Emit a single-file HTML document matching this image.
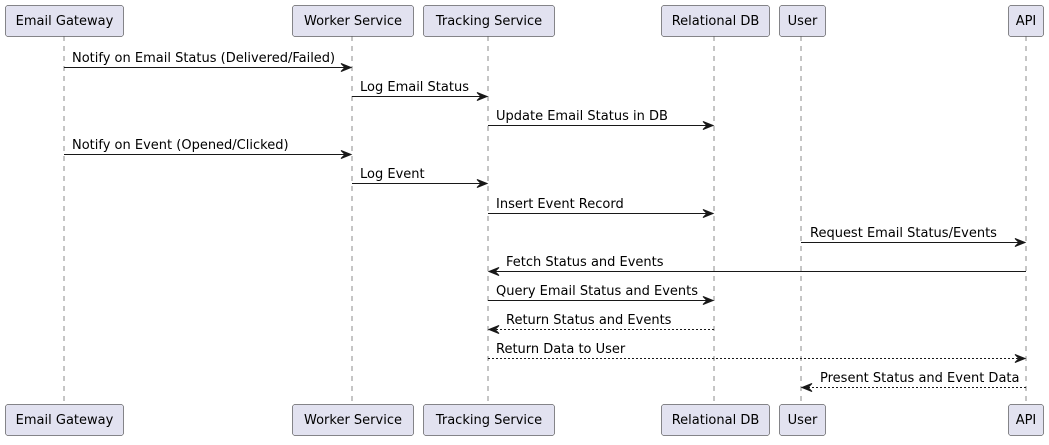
<!DOCTYPE html>
<html><head><meta charset="utf-8"><style>
html,body{margin:0;padding:0;background:#fff;}
svg text{font-family:"DejaVu Sans","Liberation Sans",sans-serif;font-size:13px;fill:#000;}
</style></head><body>
<svg width="1049" height="440" viewBox="0 0 1049 440" xmlns="http://www.w3.org/2000/svg">
<defs>
<g id="ar"><polygon points="0,0 -10,-4 -6,0 -10,4" fill="#181818" stroke="#181818"/></g>
</defs>
<g stroke="#181818" stroke-width="0.5" stroke-dasharray="5,5">
<line x1="64" y1="36" x2="64" y2="404"/>
<line x1="352" y1="36" x2="352" y2="404"/>
<line x1="488" y1="36" x2="488" y2="404"/>
<line x1="714" y1="36" x2="714" y2="404"/>
<line x1="801" y1="36" x2="801" y2="404"/>
<line x1="1026" y1="36" x2="1026" y2="404"/>
</g>
<g fill="#E2E2F0" stroke="#181818" stroke-width="0.5">
<rect x="5.5" y="5.5" width="118" height="31" rx="2.5"/>
<rect x="292.5" y="5.5" width="121" height="31" rx="2.5"/>
<rect x="423.5" y="5.5" width="131" height="31" rx="2.5"/>
<rect x="661.5" y="5.5" width="108" height="31" rx="2.5"/>
<rect x="779.5" y="5.5" width="46" height="31" rx="2.5"/>
<rect x="1008.5" y="5.5" width="35" height="31" rx="2.5"/>
<rect x="5.5" y="404.5" width="118" height="31" rx="2.5"/>
<rect x="292.5" y="404.5" width="121" height="31" rx="2.5"/>
<rect x="423.5" y="404.5" width="131" height="31" rx="2.5"/>
<rect x="661.5" y="404.5" width="108" height="31" rx="2.5"/>
<rect x="779.5" y="404.5" width="46" height="31" rx="2.5"/>
<rect x="1008.5" y="404.5" width="35" height="31" rx="2.5"/>
</g>
<g text-anchor="middle">
<text x="64.5" y="25">Email Gateway</text>
<text x="353" y="25">Worker Service</text>
<text x="489" y="25">Tracking Service</text>
<text x="715.5" y="25">Relational DB</text>
<text x="802.5" y="25">User</text>
<text x="1026" y="25">API</text>
<text x="64.5" y="424">Email Gateway</text>
<text x="353" y="424">Worker Service</text>
<text x="489" y="424">Tracking Service</text>
<text x="715.5" y="424">Relational DB</text>
<text x="802.5" y="424">User</text>
<text x="1026" y="424">API</text>
</g>
<g stroke="#181818" stroke-width="1">
<line x1="64" y1="67.5" x2="350" y2="67.5"/>
<line x1="352" y1="96.5" x2="486" y2="96.5"/>
<line x1="488" y1="125.5" x2="712" y2="125.5"/>
<line x1="64" y1="154.5" x2="350" y2="154.5"/>
<line x1="352" y1="183.5" x2="486" y2="183.5"/>
<line x1="488" y1="213.5" x2="712" y2="213.5"/>
<line x1="801" y1="242.5" x2="1024" y2="242.5"/>
<line x1="1026" y1="271.5" x2="491" y2="271.5"/>
<line x1="488" y1="300.5" x2="712" y2="300.5"/>
<line x1="714" y1="329.5" x2="491" y2="329.5" stroke-dasharray="2,2"/>
<line x1="488" y1="358.5" x2="1024" y2="358.5" stroke-dasharray="2,2"/>
<line x1="1026" y1="387.5" x2="804" y2="387.5" stroke-dasharray="2,2"/>
</g>
<use href="#ar" transform="translate(351,67.5)"/>
<use href="#ar" transform="translate(487,96.5)"/>
<use href="#ar" transform="translate(713,125.5)"/>
<use href="#ar" transform="translate(351,154.5)"/>
<use href="#ar" transform="translate(487,183.5)"/>
<use href="#ar" transform="translate(713,213.5)"/>
<use href="#ar" transform="translate(1025,242.5)"/>
<use href="#ar" transform="translate(489,271.5) scale(-1,1)"/>
<use href="#ar" transform="translate(713,300.5)"/>
<use href="#ar" transform="translate(489,329.5) scale(-1,1)"/>
<use href="#ar" transform="translate(1025,358.5)"/>
<use href="#ar" transform="translate(802,387.5) scale(-1,1)"/>
<text x="72" y="62">Notify on Email Status (Delivered/Failed)</text>
<text x="360" y="91">Log Email Status</text>
<text x="496" y="120">Update Email Status in DB</text>
<text x="72" y="149">Notify on Event (Opened/Clicked)</text>
<text x="360" y="178">Log Event</text>
<text x="496" y="208">Insert Event Record</text>
<text x="810" y="237">Request Email Status/Events</text>
<text x="506" y="266">Fetch Status and Events</text>
<text x="496" y="295">Query Email Status and Events</text>
<text x="506" y="324">Return Status and Events</text>
<text x="496" y="353">Return Data to User</text>
<text x="820" y="382">Present Status and Event Data</text>
</svg>
</body></html>
